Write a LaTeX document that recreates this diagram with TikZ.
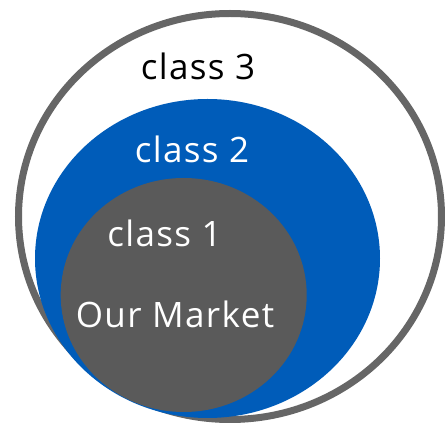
\documentclass[tikz,border=0pt]{standalone}
\usepackage{fontspec}
\setmainfont[LetterSpace=4]{Open Sans}
\definecolor{ringgrey}{HTML}{666666}
\definecolor{mblue}{HTML}{005CB9}
\definecolor{mgrey}{HTML}{5A5A5A}
\begin{document}
\begin{tikzpicture}[x=1pt,y=1pt,
  lbl/.style={anchor=base,inner sep=0pt,font=\fontsize{35}{40}\selectfont}]
\useasboundingbox (0,0) rectangle (445,423);
\draw[ringgrey,line width=7pt,fill=white] (230,206.5) ellipse [x radius=211.5,y radius=203];
\fill[mblue] (207.5,164.5) ellipse [x radius=172.5,y radius=159.5];
\fill[mgrey] (183.7,128) ellipse [x radius=123,y radius=117];
\node[lbl,black] (c3) at (198,343) {class 3};
\node[lbl,white] (c2) at (192,260) {class 2};
\node[lbl,white] (c1) at (164.5,176) {class 1};
\node[lbl,white] (om) at (175,95) {Our Market};
\end{tikzpicture}
\end{document}
